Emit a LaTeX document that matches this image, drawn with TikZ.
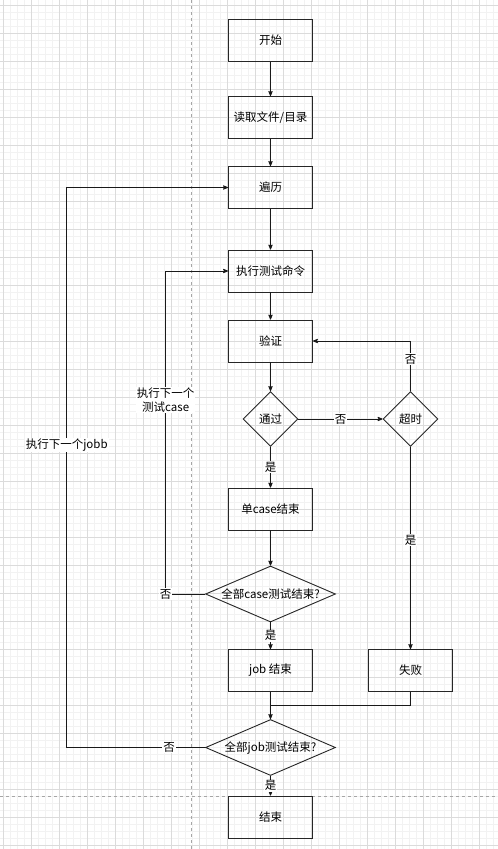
\documentclass[tikz,border=0pt]{standalone}
\usepackage{fontspec}
\setmainfont{Noto Sans CJK SC}
\usetikzlibrary{positioning,arrows,shapes.geometric}

\tikzset{
	block/.style={rectangle,draw=black!85,line width=0.9pt,minimum width=84pt,minimum height=42pt,inner sep=2pt},
	decision/.style={diamond,draw=black!85,line width=0.9pt,aspect=2.3,inner sep=0pt,minimum width=130pt,minimum height=56pt},
	check/.style={diamond,draw=black!85,line width=0.9pt,aspect=1,inner sep=0pt,minimum width=55pt,minimum height=55pt},
	lbl/.style={fill=white,inner sep=1pt},
	flow/.style={->,line width=0.8pt,draw=black!90},
}

\begin{document}
\begin{tikzpicture}[x=1pt,y=-1pt,>=stealth',every node/.style={font=\fontsize{11.5}{14}\selectfont}]
			%background grid
			\useasboundingbox (0,0) rectangle (498,849);
			\fill[white] (0,0) rectangle (498,849);
			\foreach \i in {0,...,70} \draw[black!5,line width=0.5pt] (3.3+7*\i,0) -- (3.3+7*\i,849);
			\foreach \i in {0,...,120} \draw[black!5,line width=0.5pt] (0,5.3+7*\i) -- (498,5.3+7*\i);
			\foreach \i in {0,...,17} \draw[black!14,line width=0.6pt] (3.3+28*\i,0) -- (3.3+28*\i,849);
			\foreach \i in {0,...,30} \draw[black!14,line width=0.6pt] (0,5.3+28*\i) -- (498,5.3+28*\i);
			\draw[black!35,dash pattern=on 3pt off 3pt] (190.7,0) -- (190.7,849);
			\draw[black!35,dash pattern=on 3pt off 3pt] (0,796) -- (498,796);

			%main column
			\node[block] (start) at (270.5,40.5) {开始};
			\node[block] (read) at (270.5,117.5) {读取文件/目录};
			\node[block] (trav) at (270.5,187.5) {遍历};
			\node[block] (exec) at (270.5,271) {执行测试命令};
			\node[block] (verify) at (270.5,341) {验证};
			\node[check] (pass) at (270.5,419) {通过};
			\node[block] (single) at (270.5,509) {单case结束};
			\node[decision] (allcase) at (270.5,594) {全部case测试结束?};
			\node[block] (jobend) at (270.5,670.5) {job 结束};
			\node[decision] (alljob) at (270.5,747.5) {全部job测试结束?};
			\node[block] (finish) at (270.5,817) {结束};

			%right column
			\node[check] (timeout) at (410.5,419) {超时};
			\node[block] (fail) at (410.5,670.5) {失败};

			%bend points
			\coordinate (caseloop) at (165.7,271);
			\coordinate (jobloop) at (66.7,187.5);
			\coordinate (merge) at (270.5,705.7);

			%edges
			\draw[flow] (start) -- (read);
			\draw[flow] (read) -- (trav);
			\draw[flow] (trav) -- (exec);
			\draw[flow] (exec) -- (verify);
			\draw[flow] (verify) -- (pass);
			\draw[flow] (pass) -- node[lbl] {否} (timeout);
			\draw[flow] (timeout) |- node[lbl,pos=0.32] {否} (verify);
			\draw[flow] (timeout) -- node[lbl,pos=0.46] {是} (fail);
			\draw[flow] (pass) -- node[lbl] {是} (single);
			\draw[flow] (single) -- (allcase);
			\draw[flow] (allcase) -- node[lbl] {是} (jobend);
			\draw[flow] (allcase.west) -| node[lbl,pos=0.5] {否} node[lbl,pos=0.8,align=center] {执行下一个\\测试case} (caseloop) -- (exec);
			\draw[flow] (jobend) -- (alljob);
			\draw[line width=0.8pt,black!90] (fail) |- (merge);
			\draw[flow] (alljob.west) -| node[lbl,pos=0.13] {否} node[lbl,pos=0.77] {执行下一个jobb} (jobloop) -- (trav);
			\draw[flow] (alljob) -- node[lbl] {是} (finish);
		\end{tikzpicture}
\end{document}
